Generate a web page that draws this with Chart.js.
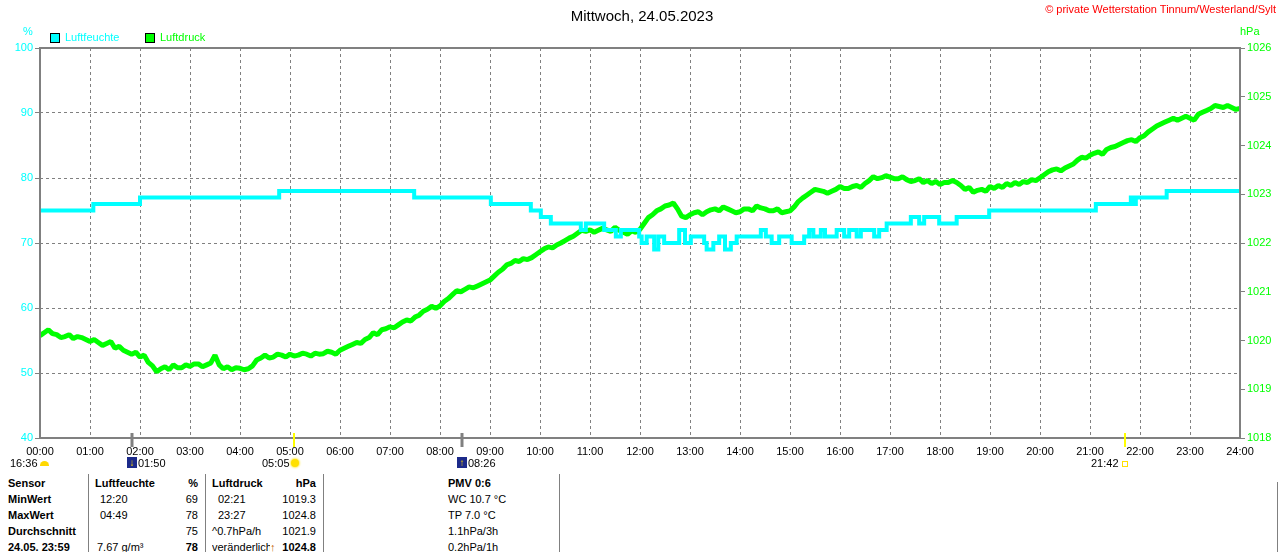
<!DOCTYPE html>
<html>
<head>
<meta charset="utf-8">
<script src="https://cdn.jsdelivr.net/npm/chart.js@4.4.0/dist/chart.umd.min.js"></script>
<style>
  body { margin: 0; background: #fff; font-family: "Liberation Sans", Arial, sans-serif; font-size: 11px; }
  #page { position: relative; width: 1280px; height: 552px; overflow: hidden; }
  #chart { position: absolute; left: 0; top: 0; }
  .t { position: absolute; white-space: nowrap; line-height: 13px; }
  .b { font-weight: bold; }
  .r { text-align: right; }
  .sep { position: absolute; width: 1px; background: #808080; }
  .box { position: absolute; width: 8px; height: 8px; border: 1px solid #000; }
  .moon { position: absolute; width: 10px; height: 11px; background: #1c2a8a; color: #ffd800; font-size: 10px; line-height: 11px; text-align: center; font-weight: bold; }
</style>
</head>
<body>
<div id="page">
  <canvas id="chart" width="1280" height="470"></canvas>

  <div class="t" style="left:0;width:1284px;top:7px;text-align:center;font-size:15px;line-height:17px;">Mittwoch, 24.05.2023</div>
  <div class="t" style="right:4px;top:3px;color:#ff0000;">© private Wetterstation Tinnum/Westerland/Sylt</div>

  <div class="t" style="left:23px;top:25px;color:#00ffff;">%</div>
  <div class="t" style="left:1240px;top:25px;color:#00ff00;">hPa</div>

  <div class="box" style="left:50px;top:33px;background:#00ffff;"></div>
  <div class="t" style="left:65px;top:31px;color:#00ffff;">Luftfeuchte</div>
  <div class="box" style="left:145px;top:33px;background:#00ff00;"></div>
  <div class="t" style="left:160px;top:31px;color:#00ff00;">Luftdruck</div>

  <!-- Sonne / Mond -->
  <div class="t" style="left:10px;top:457px;">16:36</div>
  <div style="position:absolute;left:40px;top:461px;width:9px;height:5px;background:#ffd800;border-radius:5px 5px 0 0;"></div>
  <div class="moon" style="left:127px;top:457px;">↓</div>
  <div class="t" style="left:138px;top:457px;">01:50</div>
  <div class="t" style="left:262px;top:457px;">05:05</div>
  <div style="position:absolute;left:291px;top:459px;width:8px;height:8px;background:#ffe000;border-radius:50%;box-shadow:0 0 2px 1px #ffec60;"></div>
  <div class="moon" style="left:457px;top:457px;">↑</div>
  <div class="t" style="left:468px;top:457px;">08:26</div>
  <div class="t" style="left:1091px;top:457px;">21:42</div>
  <div style="position:absolute;left:1122px;top:461px;width:4px;height:4px;border:1px solid #ffe000;"></div>

  <!-- Tabelle -->
  <div class="sep" style="left:88px;top:474px;height:80px;"></div>
  <div class="sep" style="left:205px;top:474px;height:80px;"></div>
  <div class="sep" style="left:323px;top:474px;height:80px;"></div>
  <div class="sep" style="left:559px;top:474px;height:80px;"></div>
  <div class="sep" style="left:1277px;top:482px;height:80px;"></div>

  <div class="t b" style="left:8px;top:477px;">Sensor</div>
  <div class="t b" style="left:8px;top:493px;">MinWert</div>
  <div class="t b" style="left:8px;top:509px;">MaxWert</div>
  <div class="t b" style="left:8px;top:525px;">Durchschnitt</div>
  <div class="t b" style="left:8px;top:541px;">24.05. 23:59</div>

  <div class="t b" style="left:95px;top:477px;">Luftfeuchte</div>
  <div class="t" style="left:100px;top:493px;">12:20</div>
  <div class="t" style="left:100px;top:509px;">04:49</div>
  <div class="t" style="left:97px;top:541px;">7.67 g/m³</div>

  <div class="t b r" style="right:1082px;top:477px;">%</div>
  <div class="t r" style="right:1082px;top:493px;">69</div>
  <div class="t r" style="right:1082px;top:509px;">78</div>
  <div class="t r" style="right:1082px;top:525px;">75</div>
  <div class="t b r" style="right:1082px;top:541px;">78</div>

  <div class="t b" style="left:212px;top:477px;">Luftdruck</div>
  <div class="t" style="left:218px;top:493px;">02:21</div>
  <div class="t" style="left:218px;top:509px;">23:27</div>
  <div class="t" style="left:212px;top:525px;">^0.7hPa/h</div>
  <div class="t" style="left:212px;top:541px;width:58px;overflow:hidden;">veränderlich</div>
  <div class="t b" style="left:270px;top:541px;color:#c06000;">↑</div>

  <div class="t b r" style="right:964px;top:477px;">hPa</div>
  <div class="t r" style="right:964px;top:493px;">1019.3</div>
  <div class="t r" style="right:964px;top:509px;">1024.8</div>
  <div class="t r" style="right:964px;top:525px;">1021.9</div>
  <div class="t b r" style="right:964px;top:541px;">1024.8</div>

  <div class="t b" style="left:448px;top:477px;">PMV 0:6</div>
  <div class="t" style="left:448px;top:493px;">WC 10.7 °C</div>
  <div class="t" style="left:448px;top:509px;">TP 7.0 °C</div>
  <div class="t" style="left:448px;top:525px;">1.1hPa/3h</div>
  <div class="t" style="left:448px;top:541px;">0.2hPa/1h</div>
</div>

<script>
// Stundenbeschriftung der x-Achse
const xLabels = ['00:00', '01:00', '02:00', '03:00', '04:00', '05:00', '06:00', '07:00', '08:00',
  '09:00', '10:00', '11:00', '12:00', '13:00', '14:00', '15:00', '16:00', '17:00', '18:00',
  '19:00', '20:00', '21:00', '22:00', '23:00', '24:00'];

// Luftfeuchte (%) - Minute des Tages, ab der der Wert gilt
const humTimes = [0, 64, 120, 287, 449, 541, 589, 601, 613, 649, 655, 677, 691, 697, 719, 722, 728,
  737, 742, 749, 767, 774, 781, 797, 800, 808, 815, 822, 829, 836, 865, 871, 878, 887, 902, 917,
  923, 928, 937, 942, 956, 965, 971, 980, 985, 1001, 1007, 1016, 1045, 1055, 1061, 1079, 1100,
  1139, 1267, 1309, 1313, 1315, 1352, 1440];
const humValues = [75, 76, 77, 78, 77, 76, 75, 74, 73, 72, 73, 72, 71, 72, 71, 70, 71,
  69, 71, 70, 72, 70, 71, 70, 69, 70, 71, 69, 70, 71, 72, 71, 70, 71, 70, 71,
  72, 71, 72, 71, 72, 71, 72, 71, 72, 71, 72, 73, 74, 73, 74, 73, 74,
  75, 76, 77, 76, 77, 78, 78];

// Luftdruck (hPa) alle 5 Minuten, 00:00 bis 24:00 (eine Zeile je Stunde)
const pressureStep = 5;
const pressure = [
  1020.10, 1020.16, 1020.22, 1020.14, 1020.12, 1020.06, 1020.08, 1020.12, 1020.04, 1020.08, 1020.06, 1020.02,
  1019.98, 1020.02, 1019.96, 1019.90, 1019.94, 1019.98, 1019.84, 1019.88, 1019.80, 1019.76, 1019.72, 1019.76,
  1019.66, 1019.70, 1019.55, 1019.48, 1019.36, 1019.42, 1019.46, 1019.40, 1019.50, 1019.44, 1019.44, 1019.50,
  1019.47, 1019.52, 1019.52, 1019.46, 1019.50, 1019.54, 1019.70, 1019.50, 1019.42, 1019.46, 1019.40, 1019.44,
  1019.43, 1019.40, 1019.42, 1019.48, 1019.60, 1019.64, 1019.70, 1019.64, 1019.66, 1019.72, 1019.70, 1019.66,
  1019.72, 1019.68, 1019.70, 1019.74, 1019.72, 1019.68, 1019.74, 1019.72, 1019.73, 1019.78, 1019.76, 1019.72,
  1019.80, 1019.84, 1019.88, 1019.92, 1019.96, 1019.94, 1020.02, 1020.06, 1020.16, 1020.12, 1020.22, 1020.24,
  1020.28, 1020.26, 1020.32, 1020.38, 1020.42, 1020.40, 1020.48, 1020.52, 1020.60, 1020.64, 1020.70, 1020.66,
  1020.71, 1020.80, 1020.86, 1020.94, 1021.02, 1021.00, 1021.05, 1021.10, 1021.08, 1021.12, 1021.16, 1021.20,
  1021.24, 1021.32, 1021.40, 1021.46, 1021.55, 1021.58, 1021.64, 1021.62, 1021.68, 1021.66, 1021.70, 1021.76,
  1021.82, 1021.88, 1021.92, 1021.90, 1021.96, 1022.00, 1022.05, 1022.10, 1022.14, 1022.20, 1022.26, 1022.24,
  1022.27, 1022.22, 1022.26, 1022.30, 1022.27, 1022.24, 1022.32, 1022.26, 1022.22, 1022.18, 1022.25, 1022.22,
  1022.28, 1022.40, 1022.52, 1022.58, 1022.66, 1022.70, 1022.76, 1022.78, 1022.82, 1022.70, 1022.55, 1022.52,
  1022.58, 1022.62, 1022.64, 1022.58, 1022.64, 1022.68, 1022.70, 1022.66, 1022.74, 1022.70, 1022.66, 1022.62,
  1022.64, 1022.70, 1022.70, 1022.66, 1022.76, 1022.72, 1022.70, 1022.66, 1022.66, 1022.70, 1022.62, 1022.64,
  1022.66, 1022.74, 1022.85, 1022.92, 1022.98, 1023.04, 1023.10, 1023.08, 1023.06, 1023.02, 1023.06, 1023.10,
  1023.16, 1023.12, 1023.12, 1023.16, 1023.18, 1023.14, 1023.22, 1023.28, 1023.36, 1023.32, 1023.34, 1023.38,
  1023.35, 1023.32, 1023.32, 1023.36, 1023.30, 1023.26, 1023.28, 1023.32, 1023.24, 1023.28, 1023.22, 1023.26,
  1023.20, 1023.24, 1023.24, 1023.28, 1023.24, 1023.18, 1023.10, 1023.14, 1023.04, 1023.08, 1023.10, 1023.06,
  1023.16, 1023.12, 1023.18, 1023.14, 1023.22, 1023.18, 1023.24, 1023.20, 1023.26, 1023.24, 1023.30, 1023.28,
  1023.34, 1023.40, 1023.46, 1023.50, 1023.52, 1023.48, 1023.54, 1023.58, 1023.62, 1023.70, 1023.76, 1023.74,
  1023.80, 1023.84, 1023.87, 1023.82, 1023.92, 1023.96, 1023.98, 1024.02, 1024.06, 1024.10, 1024.12, 1024.08,
  1024.16, 1024.20, 1024.28, 1024.34, 1024.40, 1024.44, 1024.48, 1024.52, 1024.56, 1024.52, 1024.56, 1024.60,
  1024.56, 1024.52, 1024.64, 1024.68, 1024.72, 1024.76, 1024.82, 1024.80, 1024.78, 1024.82, 1024.78, 1024.74,
  1024.76
];

// Mond-/Sonnenzeiten als Marken auf der x-Achse
const markerTimes = [110, 305, 506, 1302];
const markerColors = ['#808080', '#ffff00', '#808080', '#ffff00'];

Chart.defaults.font.family = '"Liberation Sans", Arial, sans-serif';
Chart.defaults.font.size = 11;

const framePlugin = {
  id: 'frame',
  afterDatasetsDraw(chart) {
    const { ctx, chartArea: a, scales } = chart;
    ctx.save();
    ctx.strokeStyle = '#808080';
    ctx.lineWidth = 2;
    ctx.strokeRect(a.left, a.top, a.right - a.left, a.bottom - a.top);
    markerTimes.forEach((t, i) => {
      const x = Math.round(scales.x.getPixelForValue(t));
      ctx.strokeStyle = markerColors[i];
      ctx.lineWidth = markerColors[i] === '#808080' ? 3 : 2;
      ctx.beginPath();
      ctx.moveTo(x, a.bottom - 5);
      ctx.lineTo(x, a.bottom + 9);
      ctx.stroke();
    });
    ctx.restore();
  }
};

new Chart(document.getElementById('chart'), {
  type: 'line',
  data: {
    datasets: [
      {
        label: 'Luftfeuchte',
        data: humTimes.map((t, i) => ({ x: t, y: humValues[i] })),
        borderColor: '#00ffff',
        borderWidth: 4,
        stepped: true,
        pointRadius: 0,
        yAxisID: 'y'
      },
      {
        label: 'Luftdruck',
        data: pressure.map((v, i) => ({ x: i * pressureStep, y: v })),
        borderColor: '#00ff00',
        borderWidth: 5,
        borderJoinStyle: 'bevel',
        tension: 0,
        pointRadius: 0,
        yAxisID: 'y1'
      }
    ]
  },
  options: {
    responsive: false,
    animation: false,
    layout: { padding: { top: 48, left: 0, right: 0, bottom: 0 } },
    plugins: { legend: { display: false }, tooltip: { enabled: false } },
    scales: {
      x: {
        type: 'linear',
        min: 0,
        max: 1440,
        afterFit: s => { s.height = 32; },
        ticks: {
          stepSize: 60,
          autoSkip: false,
          maxRotation: 0,
          color: '#000',
          padding: 7,
          callback: v => xLabels[v / 60]
        },
        grid: { color: '#808080', drawTicks: false },
        border: { display: false, dash: [3, 3] }
      },
      y: {
        position: 'left',
        min: 40,
        max: 100,
        afterFit: s => { s.width = 40; },
        ticks: { stepSize: 10, color: '#00ffff', padding: 2 },
        grid: { color: '#808080', tickLength: 5, tickColor: '#808080', tickBorderDash: [] },
        border: { display: false, dash: [3, 3] }
      },
      y1: {
        position: 'right',
        min: 1018,
        max: 1026,
        afterFit: s => { s.width = 40; },
        ticks: { stepSize: 1, color: '#00ff00', padding: 2, callback: v => String(v) },
        grid: { drawOnChartArea: false, color: '#808080', tickLength: 5 },
        border: { display: false }
      }
    }
  },
  plugins: [framePlugin]
});
</script>
</body>
</html>
